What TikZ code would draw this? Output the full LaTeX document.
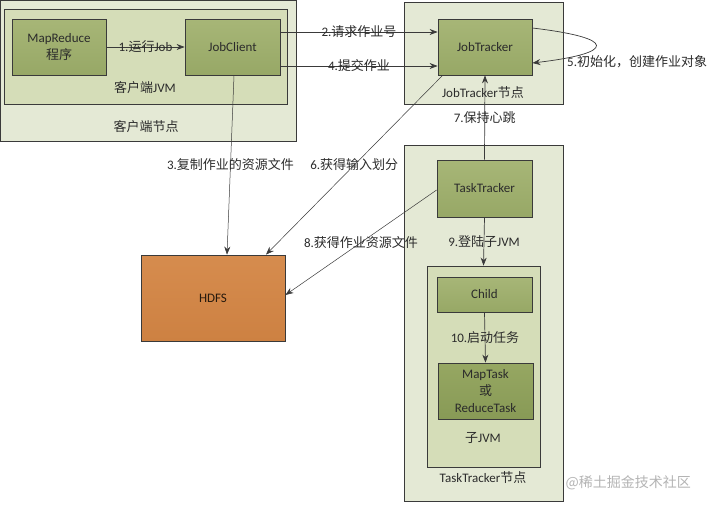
\documentclass[tikz,border=0pt]{standalone}
\usepackage{fontspec}
\setmainfont{Carlito}
\newfontfamily\cjk{Noto Sans CJK SC}
\usetikzlibrary{arrows.meta}
\definecolor{outerfill}{HTML}{E4E9D5}
\definecolor{jvmfill}{HTML}{D5DDB8}
\definecolor{boxtop}{HTML}{A7B677}
\definecolor{boxbot}{HTML}{97A866}
\definecolor{mttop}{HTML}{96A762}
\definecolor{mtbot}{HTML}{889A56}
\definecolor{hdfstop}{HTML}{D68C4E}
\definecolor{hdfsbot}{HTML}{CD8142}
\definecolor{edgecol}{HTML}{3A3A3A}
\definecolor{txtcol}{HTML}{2B2B2B}
\definecolor{wmcol}{HTML}{B4B4B4}
\tikzset{
  outerbox/.style={draw=edgecol, line width=0.8pt, fill=outerfill},
  jvmbox/.style={draw=edgecol, line width=0.8pt, fill=jvmfill},
  inbox/.style={draw=edgecol, line width=0.8pt, top color=boxtop, bottom color=boxbot, text=txtcol, align=center},
  mtbox/.style={draw=edgecol, line width=0.8pt, top color=mttop, bottom color=mtbot, text=txtcol, align=center},
  hdfsbox/.style={draw=edgecol, line width=0.8pt, top color=hdfstop, bottom color=hdfsbot, text=black!80!brown},
  arr/.style={draw=edgecol, line width=0.7pt, -{Stealth[length=8pt,width=6pt]}},
  thinarr/.style={draw=edgecol, line width=0.5pt, -{Stealth[length=8pt,width=6pt]}},
  lbl/.style={text=txtcol, inner sep=0pt},
}
\begin{document}
\begin{tikzpicture}[x=1pt,y=-1pt, font=\fontsize{13}{17}\selectfont]
\useasboundingbox (0,0) rectangle (711,507);
\fill[white] (0,0) rectangle (711,507);

% containers
\node[outerbox, minimum width=295.5pt, minimum height=140.5pt] (cnode) at (148.25,70.75) {};
\node[jvmbox, minimum width=283pt, minimum height=95pt] (cjvm) at (145.5,56.5) {};
\node[outerbox, minimum width=159pt, minimum height=102pt] (jtnode) at (483.5,53) {};
\node[outerbox, minimum width=159pt, minimum height=356pt] (ttnode) at (483.5,323) {};
\node[jvmbox, minimum width=113pt, minimum height=201pt] (sjvm) at (483.5,366.5) {};

% container labels
\node[lbl] (cjvmlbl) at (145,88) {{\cjk 客户端}JVM};
\node[lbl] (cnodelbl) at (146,127) {\cjk 客户端节点};
\node[lbl] (jtnodelbl) at (483,93) {JobTracker{\cjk 节点}};
\node[lbl] (sjvmlbl) at (483,438) {{\cjk 子}JVM};
\node[lbl] (ttnodelbl) at (483,478) {TaskTracker{\cjk 节点}};

% boxes
\node[inbox, minimum width=94pt, minimum height=56pt] (mr) at (59,47) {MapReduce\\{\cjk 程序}};
\node[inbox, minimum width=95pt, minimum height=56pt] (jc) at (232.5,47) {JobClient};
\node[inbox, minimum width=94pt, minimum height=56pt] (jt) at (485,47) {JobTracker};
\node[inbox, minimum width=95pt, minimum height=57pt] (tt) at (484.5,188.5) {TaskTracker};
\node[inbox, minimum width=95pt, minimum height=35pt] (child) at (484.5,294.5) {Child};
\node[mtbox, minimum width=95pt, minimum height=56pt, inner sep=1pt] (mt) at (485.5,391) {MapTask\\{\cjk 或}\\ReduceTask};
\node[hdfsbox, minimum width=144pt, minimum height=86pt] (hdfs) at (213,298) {HDFS};

% connectors
\draw[arr] (mr.east) -- (jc.west) node[lbl, midway] {1.{\cjk 运行}Job};
\draw[arr] ([yshift=15pt]jc.east) -- ([yshift=15pt]jt.west) node[lbl, midway] {2.{\cjk 请求作业号}};
\draw[arr] ([yshift=-19pt]jc.east) -- ([yshift=-19pt]jt.west) node[lbl, midway] {4.{\cjk 提交作业}};
\draw[thinarr] ([xshift=1.5pt]jc.south) -- ([xshift=14pt]hdfs.north) node[lbl, midway] {3.{\cjk 复制作业的资源文件}};
\draw[thinarr] ([xshift=5pt]jt.south west) -- ([xshift=53pt]hdfs.north) node[lbl, midway] {6.{\cjk 获得输入划分}};
\draw[thinarr] ([yshift=-1.5pt]tt.west) -- ([yshift=3pt]hdfs.east) node[lbl, midway] {8.{\cjk 获得作业资源文件}};
\draw[arr] ([yshift=19pt]jt.east) .. controls (617,38) and (617,53) .. ([yshift=-16pt]jt.east);
\node[lbl, anchor=west] (l5) at (567,62) {5.{\cjk 初始化，创建作业对象}};
\draw[arr] (tt.north) -- (jt.south) node[lbl, midway] {7.{\cjk 保持心跳}};
\draw[arr] (tt.south) -- (sjvm.north) node[lbl, midway] {9.{\cjk 登陆子}JVM};
\draw[arr] (child.south) -- (mt.north) node[lbl, midway] {10.{\cjk 启动任务}};

% watermark
\node[anchor=west, text=wmcol, font=\cjk\fontsize{14}{16}\selectfont] (wm) at (562,483) {@稀土掘金技术社区};
\end{tikzpicture}
\end{document}
